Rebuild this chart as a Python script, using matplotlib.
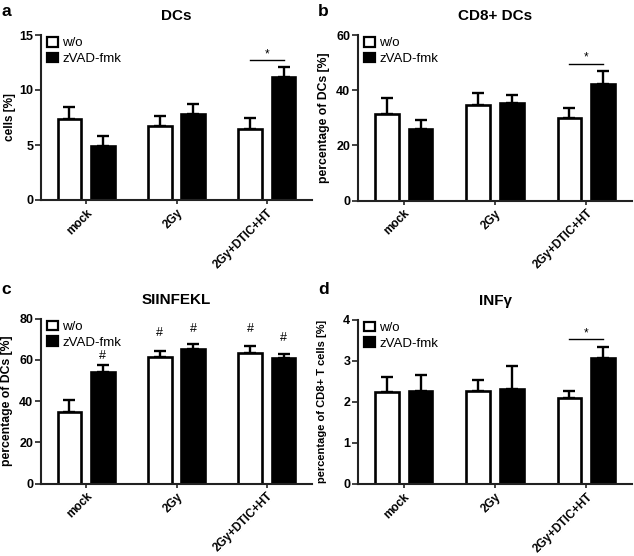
import matplotlib
matplotlib.use("Agg")
import matplotlib.pyplot as plt
from matplotlib.patches import Patch
import numpy as np

plt.rcParams['font.family'] = ['Liberation Sans', 'DejaVu Sans']

groups = ['mock', '2Gy', '2Gy+DTIC+HT']
series = ['w/o', 'zVAD-fmk']

# a: DCs
dcs_wo = [7.34, 6.74, 6.50]
dcs_wo_err = [1.12, 0.87, 0.93]
dcs_zvad = [4.89, 7.79, 11.15]
dcs_zvad_err = [0.94, 0.91, 0.90]

# b: CD8+ DCs
cd8_wo = [31.4, 34.8, 29.8]
cd8_wo_err = [5.6, 4.0, 3.7]
cd8_zvad = [26.0, 35.2, 42.4]
cd8_zvad_err = [3.2, 3.0, 4.5]

# c: SIINFEKL
siin_wo = [34.7, 61.3, 63.4]
siin_wo_err = [5.6, 2.9, 3.4]
siin_zvad = [53.9, 65.0, 60.8]
siin_zvad_err = [3.4, 2.4, 2.1]
siin_hash_wo = [False, True, True]
siin_hash_zvad = [True, True, True]

# d: INFg
infg_wo = [2.24, 2.27, 2.10]
infg_wo_err = [0.37, 0.27, 0.15]
infg_zvad = [2.27, 2.30, 3.06]
infg_zvad_err = [0.38, 0.57, 0.28]

# how far (points) each '#' sits above its error bar
hash_lift_wo = [0, 13, 12]
hash_lift_zvad = [6.5, 11, 11]

panels = [
    dict(letter='a', title='DCs', ylabel='cells [%]', ymax=15, yticks=[0, 5, 10, 15],
         wo=dcs_wo, wo_err=dcs_wo_err, zv=dcs_zvad, zv_err=dcs_zvad_err,
         star=[2], hash_wo=None, hash_zv=None, ylfs=8.5),
    dict(letter='b', title='CD8+ DCs', ylabel='percentage of DCs [%]', ymax=60, yticks=[0, 20, 40, 60],
         wo=cd8_wo, wo_err=cd8_wo_err, zv=cd8_zvad, zv_err=cd8_zvad_err,
         star=[2], hash_wo=None, hash_zv=None, ylfs=8.8),
    dict(letter='c', title='SIINFEKL', ylabel='percentage of DCs [%]', ymax=80, yticks=[0, 20, 40, 60, 80],
         wo=siin_wo, wo_err=siin_wo_err, zv=siin_zvad, zv_err=siin_zvad_err,
         star=[], hash_wo=siin_hash_wo, hash_zv=siin_hash_zvad, ylfs=8.8),
    dict(letter='d', title='INFγ', ylabel='percentage of CD8+ T cells [%]', ymax=4, yticks=[0, 1, 2, 3, 4],
         wo=infg_wo, wo_err=infg_wo_err, zv=infg_zvad, zv_err=infg_zvad_err,
         star=[2], hash_wo=None, hash_zv=None, ylfs=8.0),
]

W, H = 634, 556
fig = plt.figure(figsize=(W / 100, H / 100), dpi=100)

# axes boxes in pixels: left, right, top, bottom
boxes = [(41, 312, 35, 200), (358, 632, 35, 200.5), (41, 312, 318.5, 483.5), (358, 632, 319.5, 484)]
label_xy = [(1, 11), (318, 11), (1, 290), (318, 290)]
ylab_off = [-31, -34, -34, -36]

spine_c = '#222222'
bw = 0.26
off = 0.185
x = np.arange(len(groups))

for p, (l, r, t, b), (lx, ly), yo in zip(panels, boxes, label_xy, ylab_off):
    ax = fig.add_axes([l / W, 1 - b / H, (r - l) / W, (b - t) / H])
    for xs, vals, errs, col in [(x - off, p['wo'], p['wo_err'], 'white'),
                                (x + off, p['zv'], p['zv_err'], 'black')]:
        ax.bar(xs, vals, width=bw, color=col, edgecolor='black', linewidth=1.9, zorder=2)
        ax.errorbar(xs, vals, yerr=[np.zeros(len(vals)), errs], fmt='none', ecolor='black',
                    elinewidth=1.7, capsize=4.5, capthick=1.7, zorder=1)

    for g in p['star']:
        top = max(p['wo'][g] + p['wo_err'][g], p['zv'][g] + p['zv_err'][g])
        ys = top + 0.045 * p['ymax']
        ax.plot([g - off, g + off], [ys, ys], color='black', lw=1.0)
        ax.text(g, ys, '*', ha='center', va='bottom', fontsize=8.5)

    if p['hash_wo'] is not None:
        for xs, vals, errs, flags, lifts in [
                (x - off, p['wo'], p['wo_err'], p['hash_wo'], hash_lift_wo),
                (x + off, p['zv'], p['zv_err'], p['hash_zv'], hash_lift_zvad)]:
            for xi, v, e, f, lift in zip(xs, vals, errs, flags, lifts):
                if f:
                    ax.annotate('#', (xi, v + e), xytext=(0, lift), textcoords='offset points',
                                ha='center', va='center', fontsize=9)

    ax.set_xlim(-0.5, 2.5)
    ax.set_ylim(0, p['ymax'])
    ax.set_yticks(p['yticks'])
    ax.set_xticks(x)
    ax.set_xticklabels(groups, rotation=45, ha='right', rotation_mode='anchor',
                       fontsize=8.4, fontweight='bold')
    for lab in ax.get_yticklabels():
        lab.set_fontweight('bold')
        lab.set_fontsize(9)
    ax.tick_params(axis='y', direction='out', length=4, width=1.2, pad=1.5, color=spine_c)
    ax.tick_params(axis='x', direction='out', length=3, width=1.2, pad=2, color=spine_c)
    for s in ['top', 'right']:
        ax.spines[s].set_visible(False)
    for s in ['left', 'bottom']:
        ax.spines[s].set_linewidth(1.5)
        ax.spines[s].set_color(spine_c)

    ax.set_ylabel(p['ylabel'], fontsize=p['ylfs'], fontweight='bold', va='center')
    ax.yaxis.set_label_coords(yo / (r - l), 0.5)
    ax.set_title(p['title'], fontsize=11, fontweight='bold', pad=10.5)

    handles = [Patch(facecolor='white', edgecolor='black', linewidth=1.6),
               Patch(facecolor='black', edgecolor='black', linewidth=1.6)]
    ax.legend(handles, series, loc='upper left', bbox_to_anchor=(6 / (r - l), 1 - 2 / (b - t)),
              frameon=False, fontsize=9.5, handlelength=0.85, handleheight=0.75,
              handletextpad=0.3, labelspacing=0.25, borderpad=0, borderaxespad=0)

    fig.text(lx / W, 1 - ly / H, p['letter'], fontsize=12.5, fontweight='bold',
             ha='left', va='center')

fig.savefig('out.png', dpi=100, facecolor='white')
